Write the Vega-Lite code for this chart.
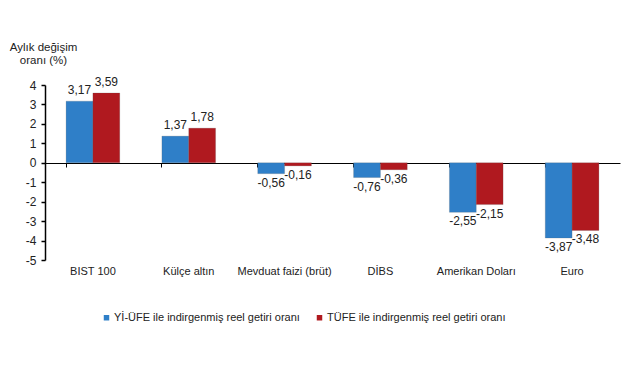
{
  "$schema": "https://vega.github.io/schema/vega-lite/v6.json",
  "autosize": {"type": "none"},
  "width": 575,
  "height": 175,
  "padding": {"left": 45, "top": 85, "right": 21, "bottom": 120},
  "background": "white",
  "config": {
    "font": "Liberation Sans",
    "view": {"stroke": null},
    "locale": {"number": {"decimal": ",", "thousands": ".", "grouping": [3], "currency": ["", " TL"], "minus": "-"}}
  },
  "data": {
    "values": [
      {"kategori": "BIST 100", "seri": "Yİ-ÜFE ile indirgenmiş reel getiri oranı", "deger": 3.17},
      {"kategori": "BIST 100", "seri": "TÜFE ile indirgenmiş reel getiri oranı", "deger": 3.59},
      {"kategori": "Külçe altın", "seri": "Yİ-ÜFE ile indirgenmiş reel getiri oranı", "deger": 1.37},
      {"kategori": "Külçe altın", "seri": "TÜFE ile indirgenmiş reel getiri oranı", "deger": 1.78},
      {"kategori": "Mevduat faizi (brüt)", "seri": "Yİ-ÜFE ile indirgenmiş reel getiri oranı", "deger": -0.56},
      {"kategori": "Mevduat faizi (brüt)", "seri": "TÜFE ile indirgenmiş reel getiri oranı", "deger": -0.16},
      {"kategori": "DİBS", "seri": "Yİ-ÜFE ile indirgenmiş reel getiri oranı", "deger": -0.76},
      {"kategori": "DİBS", "seri": "TÜFE ile indirgenmiş reel getiri oranı", "deger": -0.36},
      {"kategori": "Amerikan Doları", "seri": "Yİ-ÜFE ile indirgenmiş reel getiri oranı", "deger": -2.55},
      {"kategori": "Amerikan Doları", "seri": "TÜFE ile indirgenmiş reel getiri oranı", "deger": -2.15},
      {"kategori": "Euro", "seri": "Yİ-ÜFE ile indirgenmiş reel getiri oranı", "deger": -3.87},
      {"kategori": "Euro", "seri": "TÜFE ile indirgenmiş reel getiri oranı", "deger": -3.48}
    ]
  },
  "encoding": {
    "x": {
      "field": "kategori", "type": "nominal",
      "sort": ["BIST 100", "Külçe altın", "Mevduat faizi (brüt)", "DİBS", "Amerikan Doları", "Euro"],
      "scale": {"paddingInner": 0.44, "paddingOuter": 0.22}
    },
    "xOffset": {
      "field": "seri", "type": "nominal",
      "sort": ["Yİ-ÜFE ile indirgenmiş reel getiri oranı", "TÜFE ile indirgenmiş reel getiri oranı"],
      "scale": {"paddingInner": 0, "paddingOuter": 0}
    },
    "y": {
      "field": "deger", "type": "quantitative",
      "scale": {"domain": [-5, 4], "nice": false, "zero": false},
      "axis": {
        "values": [-5, -4, -3, -2, -1, 0, 1, 2, 3, 4],
        "tickCount": 10,
        "format": "d", "labelOverlap": false,
        "grid": false, "domainColor": "#000000", "domainWidth": 1.5, "tickColor": "#000000", "tickSize": 4, "tickWidth": 1.5,
        "labelFontSize": 12, "labelColor": "#222222", "labelPadding": 5,
        "title": ["Aylık değişim", "oranı (%)"],
        "titleAngle": 0, "titleAlign": "center", "titleBaseline": "alphabetic",
        "titleX": -2, "titleY": -35, "titleFontSize": 11.5, "titleFontWeight": "normal", "titleColor": "#222222", "titleLineHeight": 13
      }
    }
  },
  "layer": [
    {
      "mark": {"type": "bar", "stroke": "#555555", "strokeWidth": 0.4, "strokeOpacity": 0.5},
      "encoding": {
        "x": {
          "field": "kategori", "type": "nominal",
          "sort": ["BIST 100", "Külçe altın", "Mevduat faizi (brüt)", "DİBS", "Amerikan Doları", "Euro"],
          "axis": {"orient": "bottom", "offset": -97, "labels": false, "title": null, "domain": true, "domainColor": "#000000", "domainWidth": 1, "ticks": true, "tickColor": "#000000", "tickSize": 4, "bandPosition": 0, "tickExtra": true, "grid": false}
        },
        "color": {
          "field": "seri", "type": "nominal",
          "sort": ["Yİ-ÜFE ile indirgenmiş reel getiri oranı", "TÜFE ile indirgenmiş reel getiri oranı"],
          "scale": {"range": ["#2f7fc8", "#b0191f"]},
          "legend": {
            "orient": "none", "legendX": 56, "legendY": 227, "direction": "horizontal", "title": null,
            "symbolType": "square", "symbolSize": 30, "symbolStrokeWidth": 0,
            "labelFontSize": 11, "labelColor": "#222222", "columnPadding": 14, "labelOffset": 2, "labelLimit": 0
          }
        }
      }
    },
    {
      "transform": [{"filter": "datum.deger >= 0"}],
      "mark": {"type": "text", "baseline": "bottom", "dy": -4, "fontSize": 12, "color": "#222222"},
      "encoding": {
        "x": {
          "field": "kategori", "type": "nominal",
          "sort": ["BIST 100", "Külçe altın", "Mevduat faizi (brüt)", "DİBS", "Amerikan Doları", "Euro"],
          "axis": {"orient": "bottom", "title": null, "domain": false, "ticks": false, "labelAngle": 0, "labelFontSize": 11, "labelColor": "#222222", "labelPadding": 5, "grid": false}
        },
        "text": {"field": "deger", "type": "quantitative", "format": ".2f"}
      }
    },
    {
      "transform": [{"filter": "datum.deger < 0"}],
      "mark": {"type": "text", "baseline": "top", "dy": 4, "fontSize": 12, "color": "#222222"},
      "encoding": {
        "x": {
          "field": "kategori", "type": "nominal",
          "sort": ["BIST 100", "Külçe altın", "Mevduat faizi (brüt)", "DİBS", "Amerikan Doları", "Euro"],
          "axis": null
        },
        "text": {"field": "deger", "type": "quantitative", "format": ".2f"}
      }
    }
  ],
  "resolve": {"axis": {"x": "independent"}}
}
